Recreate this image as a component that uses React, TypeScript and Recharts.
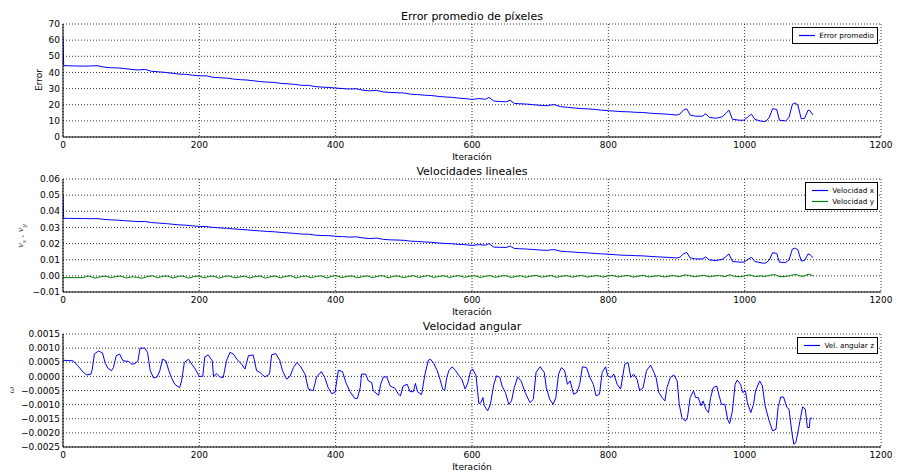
import React from 'react';
import { LineChart, Line, XAxis, YAxis, CartesianGrid } from 'recharts';

// iteration samples shared by the error and linear-velocity-x curves
const linIter = [
  0, 1, 10, 20, 30, 40, 50, 60, 70, 80, 90, 100, 110, 120, 130, 140, 150, 160, 170, 180, 190,
  200, 210, 220, 230, 240, 250, 260, 270, 280, 290, 300, 310, 320, 330, 340, 350, 360, 370, 380, 390,
  400, 410, 420, 430, 440, 450, 460, 470, 480, 490, 500, 510, 520, 530, 540, 550, 560, 570, 580, 590,
  600, 610, 620, 625, 632, 640, 650, 656, 662, 670, 680, 690, 700, 710, 720, 730, 740, 750, 760, 770,
  780, 790, 800, 810, 820, 830, 840, 850, 860, 870, 880, 890, 900, 905, 910, 915, 920, 928, 938, 943,
  948, 958, 967, 972, 977, 982, 992, 999, 1006, 1010, 1015, 1026, 1031, 1036, 1041, 1047, 1051, 1060,
  1065, 1070, 1074, 1078, 1083, 1088, 1093, 1096, 1100,
];

const errorVals = [
  62, 44.2, 44.1, 44.0, 43.9, 44.0, 44.2, 43.3, 42.9, 42.8, 42.4, 41.9, 41.5, 41.9, 40.7, 40.4, 40.0, 39.5, 39.0, 38.8, 38.3,
  37.9, 37.9, 37.0, 36.7, 36.5, 35.9, 35.5, 35.3, 34.8, 34.3, 34.0, 33.8, 33.2, 32.9, 32.6, 32.0, 32.0, 31.2, 30.9, 30.7,
  30.3, 30.0, 29.7, 29.9, 29.0, 28.6, 28.9, 27.9, 27.6, 27.4, 27.3, 26.5, 26.3, 25.9, 25.7, 25.2, 24.8, 24.6, 24.1, 23.8,
  23.3, 23.8, 23.4, 24.5, 22.3, 22.0, 21.8, 22.8, 20.8, 20.6, 20.4, 20.0, 19.6, 19.4, 20.1, 18.8, 18.4, 18.0, 17.6, 17.4,
  17.1, 16.6, 16.3, 16.0, 15.7, 15.6, 15.3, 15.2, 14.8, 14.5, 14.3, 14.0, 13.6, 14.2, 16.6, 17.5, 13.6, 12.9, 12.9, 14.4,
  12.2, 11.6, 12.5, 14.5, 16.6, 11.0, 10.4, 10.4, 12.9, 14.1, 10.9, 9.6, 9.7, 12.0, 17.6, 17.0, 10.4, 10.0,
  12.0, 20.3, 21.1, 19.8, 11.2, 11.6, 16.6, 16.2, 13.7,
];

const velXVals = [
  0.05, 0.0356, 0.0356, 0.0355, 0.0355, 0.0354, 0.0355, 0.035, 0.0347, 0.0345, 0.0342, 0.0339, 0.0336, 0.0337, 0.033, 0.0327, 0.0324, 0.032, 0.0316, 0.0314, 0.031,
  0.0306, 0.0305, 0.03, 0.0297, 0.0295, 0.0291, 0.0288, 0.0285, 0.0281, 0.0278, 0.0275, 0.0273, 0.0269, 0.0266, 0.0263, 0.0259, 0.0258, 0.0252, 0.025, 0.0249,
  0.0245, 0.0243, 0.024, 0.0242, 0.0235, 0.0231, 0.0234, 0.0226, 0.0223, 0.0222, 0.022, 0.0215, 0.0213, 0.021, 0.0208, 0.0204, 0.0201, 0.0199, 0.0195, 0.0193,
  0.0189, 0.0193, 0.019, 0.02, 0.0178, 0.0177, 0.0176, 0.0184, 0.017, 0.0168, 0.0166, 0.0163, 0.016, 0.0158, 0.0163, 0.0153, 0.015, 0.0147, 0.0144, 0.0142,
  0.0139, 0.0136, 0.0134, 0.0131, 0.0128, 0.0127, 0.0125, 0.0124, 0.0121, 0.0118, 0.0116, 0.0114, 0.0111, 0.0115, 0.0136, 0.0145, 0.0111, 0.0105, 0.0105, 0.0117,
  0.0099, 0.0095, 0.0102, 0.0118, 0.0136, 0.009, 0.0085, 0.0085, 0.0105, 0.0115, 0.0089, 0.0079, 0.0079, 0.0098, 0.0144, 0.0139, 0.0085, 0.0082,
  0.0098, 0.0166, 0.0172, 0.0162, 0.0092, 0.0095, 0.0136, 0.0132, 0.0112,
];

const velYIter = [
  0, 25, 30, 38, 47, 56, 62, 70, 78, 84, 93, 101, 108, 116, 125, 131, 139, 147, 153, 161, 169, 175, 184, 192, 199,
  207, 215, 221, 229, 237, 243, 252, 260, 266, 274, 282, 289, 297, 305, 311, 319, 327, 334, 342, 350, 356, 364, 372,
  379, 387, 395, 401, 409, 417, 424, 432, 440, 446, 454, 462, 469, 477, 485, 491, 499, 507, 514, 522, 530, 536, 544,
  552, 559, 567, 575, 581, 589, 597, 604, 612, 620, 626, 634, 642, 649, 657, 665, 671, 679, 687, 694, 702, 710, 716,
  724, 732, 739, 747, 755, 761, 769, 777, 784, 792, 800, 806, 814, 822, 829, 837, 845, 851, 859, 867, 874, 882, 890,
  896, 904, 912, 918, 926, 934, 940, 948, 956, 963, 971, 978, 985, 993, 1001, 1008, 1016, 1023, 1030, 1038, 1044,
  1052, 1060, 1067, 1075, 1082, 1088, 1093, 1097, 1100,
];

const velYVals = [
  -0.0011, -0.0011, -0.001, -0.0001, -0.0014, -0.0005, -0.0002, -0.0011, -0.0004, -0.0001, -0.0013, -0.0006, -0.0009, -0.0015, -0.0003, 0.0, -0.0012, -0.0002, -0.0001, -0.0013, -0.0004, 0.0, -0.0014, -0.0005, -0.0001,
  -0.0012, -0.0003, -0.0002, -0.0014, -0.0004, 0.0, -0.0012, -0.0006, -0.0002, -0.0013, -0.0004, -0.0001, -0.0014, -0.0005, -0.0001, -0.0012, -0.0003, 0.0001, -0.0013, -0.0004, -0.0001, -0.0012, -0.0003,
  0.0, -0.0013, -0.0002, 0.0001, -0.0011, -0.0003, 0.0, -0.0012, -0.0004, 0.0, -0.0011, -0.0002, 0.0001, -0.0012, -0.0003, 0.0, -0.0011, -0.0004, 0.0001, -0.001, -0.0002, 0.0002, -0.001,
  -0.0003, 0.0001, -0.001, -0.0002, 0.0002, -0.0009, -0.0002, 0.0001, -0.001, -0.0003, 0.0002, -0.0009, -0.0002, 0.0002, -0.001, -0.0003, 0.0001, -0.0009, -0.0001, 0.0003, -0.0008, -0.0002, 0.0002,
  -0.0009, -0.0002, 0.0002, -0.0008, -0.0001, 0.0003, -0.0008, -0.0002, 0.0002, -0.0008, 0.0, 0.0003, -0.0007, -0.0001, 0.0003, -0.0008, -0.0001, 0.0003, -0.0007, -0.0002, 0.0001, -0.0007, -0.0001,
  0.0002, -0.0006, 0.0006, 0.0003, -0.0006, 0.0, 0.0004, -0.0006, 0.0, 0.0003, -0.0005, 0.0007, -0.0003, -0.0006, 0.0001, 0.0006, -0.0005, 0.0, -0.0004, 0.0005, 0.0008,
  -0.0005, -0.0004, 0.0002, 0.001, -0.0002, -0.0001, 0.0011, 0.0006, 0.0001,
];

const angIter = [
  0, 15, 22, 30, 35, 41, 43, 46, 52, 58, 62, 66, 71, 74, 78, 83, 88, 96, 101, 106, 110, 113, 120, 124, 128, 133, 138,
  142, 146, 151, 155, 159, 164, 171, 174, 178, 184, 189, 194, 200, 205, 208, 213, 219, 221, 225, 230, 235, 240, 245,
  250, 255, 262, 267, 272, 279, 284, 289, 296, 303, 306, 312, 318, 322, 328, 333, 338, 343, 348, 355, 360, 367, 372,
  379, 384, 389, 394, 399, 404, 410, 415, 421, 428, 432, 436, 438, 444, 448, 453, 455, 463, 466, 470, 475, 480, 487,
  492, 495, 499, 505, 509, 514, 517, 520, 526, 531, 536, 539, 544, 549, 553, 557, 560, 563, 566, 571, 576, 581, 585,
  590, 594, 598, 601, 606, 610, 613, 616, 618, 623, 627, 632, 636, 641, 644, 649, 654, 658, 662, 667, 672, 678, 685,
  690, 694, 700, 706, 709, 714, 719, 723, 727, 731, 736, 740, 744, 749, 754, 758, 762, 768, 773, 778, 782, 787, 791,
  796, 799, 804, 808, 813, 818, 820, 824, 829, 833, 837, 842, 846, 851, 856, 862, 867, 870, 874, 879, 883, 886, 891,
  896, 901, 904, 908, 913, 916, 920, 925, 928, 932, 936, 939, 943, 947, 950, 954, 959, 962, 966, 971, 975, 978, 982,
  986, 989, 994, 997, 1001, 1004, 1009, 1013, 1016, 1022, 1026, 1030, 1036, 1041, 1046, 1049, 1053, 1057, 1062, 1065,
  1069, 1072, 1075, 1078, 1082, 1085, 1089, 1092, 1095, 1096, 1099,
];

const angVals = [
  0.00057, 0.00055, 0.00037, 0.00014, 0.00005, 0.00008, 0.00026, 0.00079, 0.0009, 0.00083, 0.00046, 0.00029, 0.0002, 0.00031, 0.00073, 0.00079, 0.00055, 0.00053, 0.00043, 0.00046, 0.00055, 0.001, 0.001, 0.00085, 0.0002, -0.00006, -0.00002,
  0.0002, 0.00061, 0.00055, 0.00022, -0.00004, -0.00028, -0.0004, -0.00016, 0.00049, 0.00061, 0.00043, 0.00026, 0.0, 0.0, 0.00069, 0.00076, 0.00055, -0.00002, 0.0001, -0.00002, -0.00004, 0.00057, 0.00085,
  0.00079, 0.00061, 0.00043, 0.00026, 0.00073, 0.00076, 0.0002, 0.00014, -0.00002, 0.00008, 0.00076, 0.00081, 0.00057, 0.0002, -0.0001, 0.0, 0.00031, 0.00049, 0.00037, 0.00008, -0.00045, -0.00051, -0.00002,
  0.00017, -0.00004, -0.0004, -0.00061, -0.00057, 0.00022, 0.00017, -0.00022, -0.00054, -0.00078, -0.00078, -0.0004, 0.00008, 0.00008, -0.00016, -0.00022, -0.00051, -0.00067, -0.00028, -0.00002, -0.00002, -0.00034, -0.00042,
  -0.00063, -0.00069, -0.00034, -0.00028, -0.00054, -0.00054, -0.00025, -0.00054, -0.00065, 0.00008, 0.00057, 0.00061, 0.00046, 0.0002, -0.0001, -0.00045, -0.0005, -0.00004, 0.0002, 0.00034, 0.0002, 0.00002, -0.0001,
  -0.00045, -0.00022, 0.0002, 0.00026, 0.00002, -0.00096, -0.00093, -0.00075, -0.00104, -0.00122, -0.00099, -0.00028, 0.00002, -0.00004, -0.00034, -0.00057, -0.00099, -0.00087, -0.0004, -0.00002, -0.00016, -0.00057, -0.00093,
  -0.00081, 0.00014, 0.00034, 0.00014, -0.0004, -0.00081, -0.00099, -0.00075, 0.00008, 0.00031, 0.0002, -0.00028, -0.00016, -0.00063, -0.00057, -0.00028, 0.00034, 0.00031, -0.00004, -0.00028, -0.00069, -0.00063, 0.00014,
  0.00034, 0.00002, -0.00004, 0.00008, -0.00028, -0.00045, -0.00016, 0.00043, 0.00049, -0.00004, 0.00008, -0.0001, -0.0005, -0.0004, 0.0002, 0.0004, 0.00014, -0.00004, -0.00057, -0.00075, -0.00087, -0.0004, -0.00004,
  0.00005, -0.00016, -0.00099, -0.00146, -0.00158, -0.00146, -0.00075, -0.00051, -0.00075, -0.00075, -0.00104, -0.00087, -0.00116, -0.00128, -0.00075, -0.0004, -0.00034, -0.00063, -0.00099, -0.00099, -0.00152, -0.00167, -0.00122,
  -0.00028, -0.00013, -0.00028, -0.00057, -0.00051, -0.00093, -0.00128, -0.00099, -0.00051, -0.00016, -0.00034, -0.00104, -0.00158, -0.00193, -0.00187, -0.0011, -0.00073, -0.00073, -0.0011, -0.00116,
  -0.00193, -0.0024, -0.00235, -0.00199, -0.00146, -0.00108, -0.00116, -0.00181, -0.00181, -0.00148, -0.00148,
];

const xTicks = [0, 200, 400, 600, 800, 1000, 1200];
const errorTicks = [0, 10, 20, 30, 40, 50, 60, 70];
const velTicks = [-0.01, 0, 0.01, 0.02, 0.03, 0.04, 0.05, 0.06];
const angTicks = [-0.0025, -0.002, -0.0015, -0.001, -0.0005, 0, 0.0005, 0.001, 0.0015];

const FONT = '"DejaVu Sans", sans-serif';
const W = 898;
const PLOT_LEFT = 63;
const PLOT_RIGHT = 881;
const PLOT_H = 113;

const toRows = (xs: number[], ys: number[]) => xs.map((it, i) => ({ it, v: ys[i] }));

const fmt = (digits: number) => (v: number) => v.toFixed(digits).replace('-', '\u2212');

type Series = { rows: { it: number; v: number }[]; color: string; name: string };

function Panel({ top, series, domain, ticks, digits }: {
  top: number; series: Series[]; domain: [number, number]; ticks: number[]; digits: number;
}) {
  const tickStyle = { fontSize: 9, fill: '#000', fontFamily: FONT };
  return (
    <div style={{ position: 'absolute', left: 0, top: top - 10 }}>
      <LineChart width={W} height={10 + PLOT_H + 30} margin={{ top: 10, right: W - PLOT_RIGHT, bottom: 0, left: 0 }}>
        <CartesianGrid stroke="#000" strokeDasharray="1 2" strokeWidth={0.8} />
        <XAxis dataKey="it" type="number" domain={[0, 1200]} ticks={xTicks} interval={0} height={30}
          tick={tickStyle} tickLine={false} tickSize={3} tickMargin={2} axisLine={{ stroke: '#000' }} allowDataOverflow />
        <XAxis xAxisId="top" orientation="top" dataKey="it" type="number" domain={[0, 1200]} height={0}
          tick={false} tickLine={false} axisLine={{ stroke: '#000' }} />
        <YAxis type="number" domain={domain} ticks={ticks} interval={0} width={PLOT_LEFT} tickFormatter={fmt(digits)}
          tick={tickStyle} tickLine={false} tickSize={1} tickMargin={2} axisLine={{ stroke: '#000' }} allowDataOverflow />
        <YAxis yAxisId="right" orientation="right" type="number" domain={domain} width={0}
          tick={false} tickLine={false} axisLine={{ stroke: '#000' }} />
        {series.map((s) => (
          <Line key={s.name} data={s.rows} dataKey="v" name={s.name} type="linear" stroke={s.color}
            strokeWidth={1} dot={false} isAnimationActive={false} />
        ))}
      </LineChart>
    </div>
  );
}

function LegendBox({ top, items }: { top: number; items: Series[] }) {
  return (
    <div style={{
      position: 'absolute', right: W - 878, top, border: '1px solid #000', background: '#fff',
      padding: '2px 3px 2px 0', boxSizing: 'border-box', fontFamily: FONT, fontSize: 7.3,
    }}>
      {items.map((s) => (
        <div key={s.name} style={{ display: 'flex', alignItems: 'center', height: 11 }}>
          <svg width={26} height={11} style={{ flex: 'none' }}>
            <line x1={6} x2={22} y1={5.5} y2={5.5} stroke={s.color} strokeWidth={1.2} />
          </svg>
          <span style={{ whiteSpace: 'nowrap' }}>{s.name}</span>
        </div>
      ))}
    </div>
  );
}

const abs = (x: number, y: number, size: number, extra: React.CSSProperties = {}): React.CSSProperties => ({
  position: 'absolute', left: x, top: y, transform: 'translate(-50%, -50%)', fontFamily: FONT,
  fontSize: size, whiteSpace: 'nowrap', lineHeight: 1, ...extra,
});

export default function App() {
  const errSeries: Series[] = [{ rows: toRows(linIter, errorVals), color: '#0000ff', name: 'Error promedio' }];
  const velSeries: Series[] = [
    { rows: toRows(linIter, velXVals), color: '#0000ff', name: 'Velocidad x' },
    { rows: toRows(velYIter, velYVals), color: '#008000', name: 'Velocidad y' },
  ];
  const angSeries: Series[] = [{ rows: toRows(angIter, angVals), color: '#0000ff', name: 'Vel. angular z' }];
  const midX = (PLOT_LEFT + PLOT_RIGHT) / 2;

  return (
    <div style={{ position: 'absolute', left: 0, top: 0, width: W, height: 476, background: '#fff', overflow: 'hidden' }}>
      <Panel top={24} series={errSeries} domain={[0, 70]} ticks={errorTicks} digits={0} />
      <Panel top={179} series={velSeries} domain={[-0.01, 0.06]} ticks={velTicks} digits={2} />
      <Panel top={334} series={angSeries} domain={[-0.0025, 0.0015]} ticks={angTicks} digits={4} />

      <div style={abs(midX, 16, 11)}>Error promedio de píxeles</div>
      <div style={abs(midX, 171, 11)}>Velocidades lineales</div>
      <div style={abs(midX, 326, 11)}>Velocidad angular</div>

      <div style={abs(midX, 157, 9)}>Iteración</div>
      <div style={abs(midX, 312, 9)}>Iteración</div>
      <div style={abs(midX, 467, 9)}>Iteración</div>

      <div style={abs(39, 80, 9, { transform: 'translate(-50%, -50%) rotate(-90deg)' })}>Error</div>
      <div style={abs(22, 236, 8, { transform: 'translate(-50%, -50%) rotate(-90deg)', fontFamily: 'DejaVu Serif, serif', color: '#444' })}>
        <i>v</i><sub style={{ fontSize: 6 }}><i>x</i></sub> , <i>v</i><sub style={{ fontSize: 6 }}><i>y</i></sub>
      </div>
      <div style={abs(12, 390, 8, { transform: 'translate(-50%, -50%) rotate(-90deg)', fontFamily: 'DejaVu Serif, serif', color: '#444' })}>
        <i>ω</i>
      </div>

      <LegendBox top={27} items={errSeries} />
      <LegendBox top={182} items={velSeries} />
      <LegendBox top={337} items={angSeries} />
    </div>
  );
}
